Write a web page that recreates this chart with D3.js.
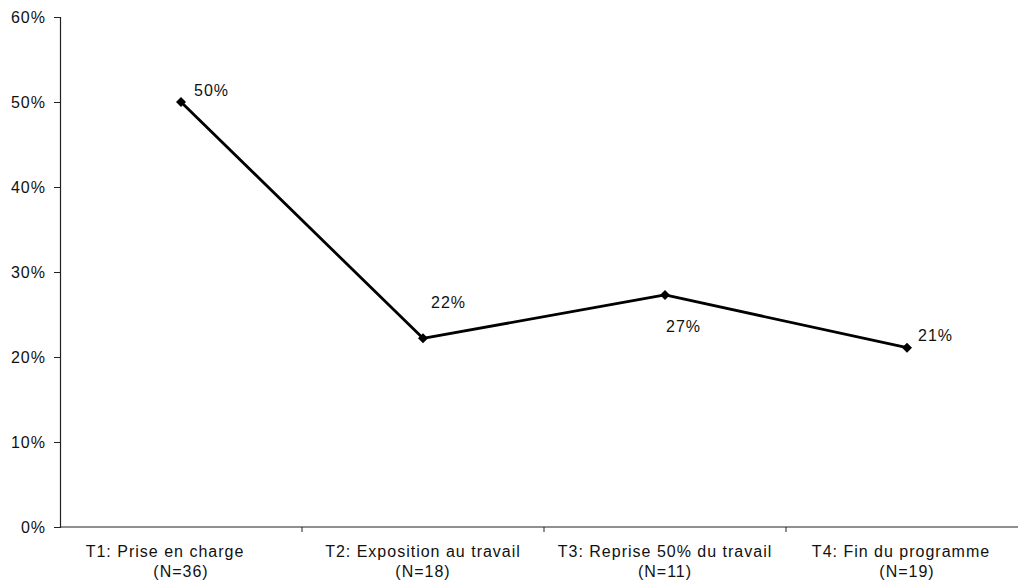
<!DOCTYPE html>
<html>
<head>
<meta charset="utf-8">
<script src="https://cdn.jsdelivr.net/npm/d3@7"></script>
<style>
  html, body { margin: 0; padding: 0; background: #fff; }
  svg { display: block; font-family: "Liberation Sans", Arial, sans-serif; }
  text { letter-spacing: 1px; }
</style>
</head>
<body>
<svg id="chart" width="1018" height="582"></svg>
<script>
// Share of participants at each stage of the programme
const categories = ["T1", "T2", "T3", "T4"];
const categoryLines = [
  ["T1: Prise en charge", "(N=36)"],
  ["T2: Exposition au travail", "(N=18)"],
  ["T3: Reprise 50% du travail", "(N=11)"],
  ["T4: Fin du programme", "(N=19)"]
];
const values = [0.50, 0.222, 0.273, 0.211];
const valueLabels = ["50%", "22%", "27%", "21%"];
const yTicks = [0, 0.1, 0.2, 0.3, 0.4, 0.5, 0.6];

// Layout: label offsets relative to each point [dx, dy]
const labelOffsets = [[13, -6], [8, -30], [1, 37], [11, -7]];
const firstLineShift = [-16, 0, 0, -6];

const svg = d3.select("#chart");
const plotLeft = 60, plotRight = 1028, plotTop = 17, plotBottom = 527;

const x = d3.scaleBand().domain(categories).range([plotLeft, plotRight]);
const y = d3.scaleLinear().domain([0, 0.6]).range([plotBottom, plotTop]);

// Y axis
const yAxis = d3.axisLeft(y).tickValues(yTicks).tickFormat(d3.format(".0%")).tickSize(6).tickPadding(8);
const gy = svg.append("g").attr("transform", `translate(${plotLeft},0)`).call(yAxis);
gy.select(".domain").attr("stroke", "#222").attr("stroke-width", 1.2);
gy.selectAll(".tick line").attr("stroke", "#222");
gy.selectAll(".tick text").attr("font-size", 16).attr("fill", "#111")
  .attr("font-family", "'Liberation Sans', Arial, sans-serif");

// X axis line with ticks at category boundaries
svg.append("line").attr("x1", plotLeft).attr("x2", plotRight)
  .attr("y1", plotBottom).attr("y2", plotBottom).attr("stroke", "#222").attr("stroke-width", 1.2);
const boundaries = categories.slice(1).map(c => x(c));
svg.selectAll(".xtick").data(boundaries).enter().append("line")
  .attr("x1", d => d).attr("x2", d => d)
  .attr("y1", plotBottom).attr("y2", plotBottom + 5)
  .attr("stroke", "#222").attr("stroke-width", 1);

// Category labels
const cx = c => x(c) + x.bandwidth() / 2;
categories.forEach((c, i) => {
  const t = svg.append("text").attr("text-anchor", "middle")
    .attr("font-size", 16).attr("fill", "#111");
  t.append("tspan").attr("x", cx(c) + firstLineShift[i]).attr("y", 557).text(categoryLines[i][0]);
  t.append("tspan").attr("x", cx(c)).attr("y", 577).text(categoryLines[i][1]);
});

// Line
const line = d3.line().x((d, i) => cx(categories[i])).y(d => y(d));
svg.append("path").datum(values).attr("d", line)
  .attr("fill", "none").attr("stroke", "#000").attr("stroke-width", 2.8)
  .attr("stroke-linejoin", "round");

// Diamond markers
svg.selectAll(".marker").data(values).enter().append("path")
  .attr("d", d3.symbol().type(d3.symbolDiamond2).size(64))
  .attr("transform", (d, i) => `translate(${cx(categories[i])},${y(d)})`)
  .attr("fill", "#000");

// Value labels
svg.selectAll(".vlabel").data(values).enter().append("text")
  .attr("x", (d, i) => cx(categories[i]) + labelOffsets[i][0])
  .attr("y", (d, i) => y(d) + labelOffsets[i][1])
  .attr("font-size", 16).attr("fill", "#111")
  .text((d, i) => valueLabels[i]);
</script>
</body>
</html>
